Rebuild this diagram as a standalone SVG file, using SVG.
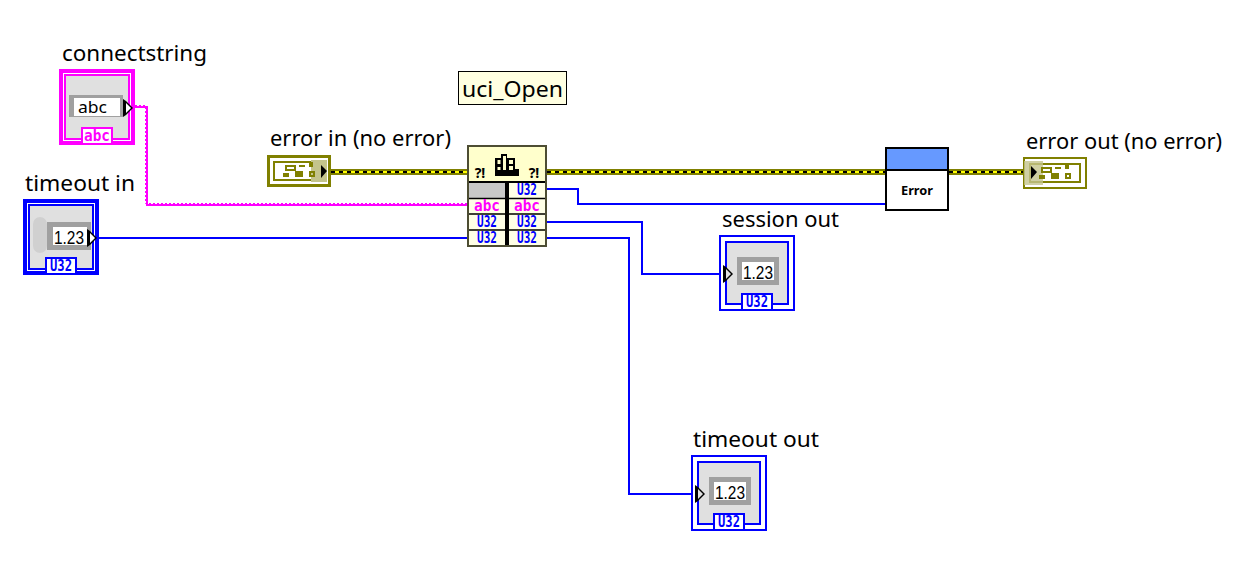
<svg xmlns="http://www.w3.org/2000/svg" width="1252" height="574" viewBox="0 0 1252 574">
<style>
text{font-family:"Noto Sans","Liberation Sans",sans-serif}
.lbl{font-size:21px;fill:#000}
.px{font-family:"DejaVu Sans Mono","Liberation Mono",monospace;font-weight:700;font-size:15px;text-anchor:middle}
.blue{fill:#00f}.pink{fill:#f0f}
.val{font-family:"Liberation Sans",sans-serif;font-size:19px;fill:#000;text-anchor:middle}
.face{fill:#e0e0e0}
.w{fill:none;stroke:#00f;stroke-width:2}
.cell{fill:#ffffe6}
.ol{fill:#808000}
.hollow{fill:none;stroke:#808000;stroke-width:2}
.frame{fill:#fff;stroke:#a0a0a0;stroke-width:5}
</style>
<defs>
<g id="tip"><path d="M0 0v18l3-2 7-7-7-7z" fill="#000"/><path d="M3 4v10l5-5z" fill="#fff"/></g>
<g id="cluster-icon">
<rect x="6" y="-5" width="9" height="4" class="hollow"/>
<path d="M3 2h6v4H3z M15 0h8v6h-8z M19-6h6v2h-6z M29-9h4v5h-4z" class="ol"/>
<rect x="30" y="1" width="4" height="4" class="hollow"/>
</g>
</defs>

<g id="connectors">
<g fill="none" stroke="#f0f">
<path d="M135 107H147V205H467" stroke-width="2"/>
<path d="M135 105.500H145.500V203.500H467" stroke-width="1" stroke-dasharray="2 2"/>
</g>
<path class="w" d="M97 238H467"/>
<path class="w" d="M547 189H578V204H885"/>
<path class="w" d="M547 222H642V274H722"/>
<path class="w" d="M547 238H629V494H694"/>
<g fill="none">
<path d="M331 172H467M547 172H885M949 172H1023" stroke="#808000" stroke-width="6"/>
<path d="M331 172H467M547 172H885M949 172H1023" stroke="#ff0" stroke-width="2"/>
<path d="M331 172H467M547 172H885M949 172H1023" stroke="#000" stroke-width="2" stroke-dasharray="4 4"/>
</g>
</g>

<g id="connectstring">
<text class="lbl" x="62" y="61" textLength="145" lengthAdjust="spacingAndGlyphs">connectstring</text>
<rect x="59" y="69" width="76" height="76" fill="#f0f"/>
<rect x="63" y="73" width="68" height="68" fill="#fff"/>
<rect x="65" y="75" width="64" height="64" class="face" stroke="#f0f" stroke-width="2"/>
<rect x="69" y="95" width="54" height="22" fill="#a0a0a0"/>
<rect x="74" y="98" width="46" height="18" fill="#fff"/>
<text x="78" y="113" font-size="16" textLength="29" lengthAdjust="spacingAndGlyphs" fill="#000">abc</text>
<use href="#tip" x="123" y="99"/>
<rect x="82" y="128" width="30" height="16" fill="#fff" stroke="#f0f" stroke-width="2"/>
<text class="px pink" x="97" y="141" textLength="26" lengthAdjust="spacingAndGlyphs">abc</text>
</g>

<g id="timeout-in">
<text class="lbl" x="25" y="191" textLength="110" lengthAdjust="spacingAndGlyphs">timeout in</text>
<rect x="23" y="199" width="76" height="76" fill="#00f"/>
<rect x="27" y="203" width="68" height="68" fill="#fff"/>
<rect x="29" y="205" width="64" height="64" class="face" stroke="#00f" stroke-width="2"/>
<rect x="33" y="217" width="14" height="36" rx="7" fill="#d0d0d0"/>
<rect x="47" y="222" width="44" height="28" fill="#a0a0a0"/>
<rect x="53" y="227" width="34" height="18" fill="#fff"/>
<text class="val" x="69" y="244" textLength="30" lengthAdjust="spacingAndGlyphs">1.23</text>
<use href="#tip" x="87" y="229"/>
<rect x="46" y="258" width="30" height="16" fill="#fff" stroke="#00f" stroke-width="2"/>
<text class="px blue" x="61" y="271" textLength="22" lengthAdjust="spacingAndGlyphs">U32</text>
</g>

<g id="uci-open">
<rect x="458.500" y="71.500" width="108" height="33" fill="#ffffe1" stroke="#000"/>
<text x="462" y="97" font-size="22" fill="#000" textLength="101" lengthAdjust="spacingAndGlyphs">uci_Open</text>
</g>

<g id="error-in">
<text class="lbl" x="270" y="146" textLength="181" lengthAdjust="spacingAndGlyphs">error in (no error)</text>
<rect x="267" y="155" width="64" height="32" class="ol"/>
<rect x="270" y="158" width="58" height="26" fill="#fff"/>
<rect x="274" y="162" width="46" height="18" class="hollow"/>
<rect x="311" y="160" width="16" height="22" fill="#c4c48c"/>
<use href="#cluster-icon" x="280" y="171"/>
<path d="M321 165l6 6-6 7z" fill="#000"/>
</g>

<g id="uci-open-call">
<rect x="468" y="146" width="78" height="100" fill="#ffffcc" stroke="#4d4d33" stroke-width="2"/>
<path d="M469 182H545" stroke="#000" stroke-width="2"/>
<rect x="469" y="183" width="36" height="15" fill="#c8c8c8"/>
<rect x="505" y="183" width="4" height="62" fill="#000"/>
<rect x="509" y="183" width="36" height="15" class="cell"/>
<rect x="469" y="199" width="36" height="14" class="cell"/><rect x="509" y="199" width="36" height="14" class="cell"/>
<rect x="469" y="215" width="36" height="14" class="cell"/><rect x="509" y="215" width="36" height="14" class="cell"/>
<rect x="469" y="231" width="36" height="14" class="cell"/><rect x="509" y="231" width="36" height="14" class="cell"/>
<path d="M469 198.500H545M469 214H545M469 230H545" stroke="#000" stroke-width="1.500"/>
<g transform="translate(-2 0)">
<path d="M497 169V158h6v-4h6v4h8v11h4v7h-24v-7z" fill="#000"/>
<path d="M499.500 160h3v4h-3zM499.500 167h3v3h-3zM505 156h3v14h-3zM511 160h4v4h-4zM511 166h4v4h-4z" fill="#ffffcc"/>
</g>
<text x="480" y="178" font-size="14" font-weight="700" text-anchor="middle" fill="#000" font-family="Liberation Sans">?!</text>
<text x="534" y="178" font-size="14" font-weight="700" text-anchor="middle" fill="#000" font-family="Liberation Sans">?!</text>
<text class="px blue" x="527" y="195" textLength="20" lengthAdjust="spacingAndGlyphs">U32</text>
<text class="px pink" x="487" y="211" textLength="26" lengthAdjust="spacingAndGlyphs">abc</text><text class="px pink" x="527" y="211" textLength="26" lengthAdjust="spacingAndGlyphs">abc</text>
<text class="px blue" x="487" y="227" textLength="20" lengthAdjust="spacingAndGlyphs">U32</text><text class="px blue" x="527" y="227" textLength="20" lengthAdjust="spacingAndGlyphs">U32</text>
<text class="px blue" x="487" y="243" textLength="20" lengthAdjust="spacingAndGlyphs">U32</text><text class="px blue" x="527" y="243" textLength="20" lengthAdjust="spacingAndGlyphs">U32</text>
</g>

<g id="error-handler">
<rect x="886" y="148" width="62" height="62" fill="#fff" stroke="#000" stroke-width="2"/>
<rect x="887" y="149" width="60" height="20" fill="#6699ff"/>
<path d="M886 170H948" stroke="#000" stroke-width="2"/>
<text x="901" y="195" font-size="13" font-weight="700" fill="#000" font-family="DejaVu Sans Mono" textLength="32" lengthAdjust="spacingAndGlyphs">Error</text>
</g>

<g id="error-out">
<text class="lbl" x="1026" y="149" textLength="196" lengthAdjust="spacingAndGlyphs">error out (no error)</text>
<rect x="1024" y="158" width="62" height="30" fill="#fff" stroke="#808000" stroke-width="2"/>
<rect x="1030" y="164" width="50" height="18" class="hollow"/>
<rect x="1024" y="161" width="19" height="24" fill="#c4c48c" fill-opacity=".8"/>
<use href="#cluster-icon" x="1036" y="173"/>
<path d="M1031 166l6 6-6 7z" fill="#000"/>
</g>

<g id="session-out">
<text class="lbl" x="722" y="227" textLength="117" lengthAdjust="spacingAndGlyphs">session out</text>
<rect x="720" y="236" width="74" height="74" fill="#fff" stroke="#00f" stroke-width="2"/>
<rect x="726" y="242" width="62" height="62" class="face" stroke="#00f" stroke-width="2"/>
<rect x="739.500" y="259.500" width="37" height="23" class="frame"/>
<text class="val" x="758" y="279" textLength="30" lengthAdjust="spacingAndGlyphs">1.23</text>
<path d="M723 265v18l3-2 7-7-7-7z" fill="#000"/><path d="M726 269v10l5-5z" fill="#e0e0e0"/>
<rect x="742" y="294" width="30" height="16" fill="#fff" stroke="#00f" stroke-width="2"/>
<text class="px blue" x="757" y="307" textLength="22" lengthAdjust="spacingAndGlyphs">U32</text>
</g>

<g id="timeout-out">
<text class="lbl" x="693" y="447" textLength="126" lengthAdjust="spacingAndGlyphs">timeout out</text>
<rect x="692" y="456" width="74" height="74" fill="#fff" stroke="#00f" stroke-width="2"/>
<rect x="698" y="462" width="62" height="62" class="face" stroke="#00f" stroke-width="2"/>
<rect x="711.500" y="479.500" width="37" height="23" class="frame"/>
<text class="val" x="730" y="499" textLength="30" lengthAdjust="spacingAndGlyphs">1.23</text>
<path d="M695 485v18l3-2 7-7-7-7z" fill="#000"/><path d="M698 489v10l5-5z" fill="#e0e0e0"/>
<rect x="714" y="514" width="30" height="16" fill="#fff" stroke="#00f" stroke-width="2"/>
<text class="px blue" x="729" y="527" textLength="22" lengthAdjust="spacingAndGlyphs">U32</text>
</g>
</svg>
